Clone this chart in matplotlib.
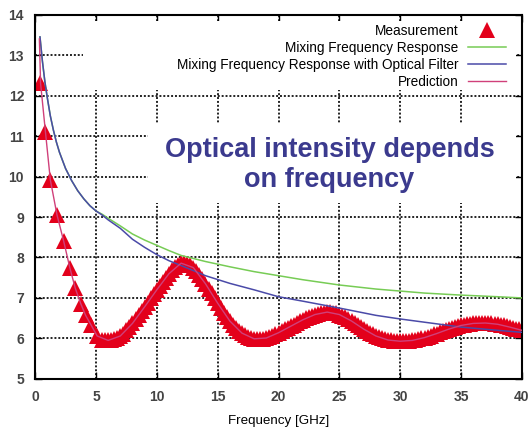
import matplotlib
matplotlib.use("Agg")
import matplotlib.pyplot as plt
from matplotlib.patches import Rectangle

plt.rcParams['font.family'] = ['Liberation Sans', 'DejaVu Sans']

# Measurement: first sparse points, then a sample every 0.25 GHz from 5.5 GHz
meas_x_low = [0.4, 0.85, 1.25, 1.8, 2.35, 2.85, 3.3, 3.75, 4.15, 4.6, 5.1]
meas_y_low = [12.3, 11.1, 9.92, 9.05, 8.4, 7.75, 7.24, 6.86, 6.57, 6.33, 6.06]
meas_x_high = [5.5 + 0.25 * i for i in range(139)]
meas_y_high = [
    5.97, 5.95, 5.95, 5.96, 5.98, 6.01, 6.06, 6.12, 6.20, 6.28,
    6.37, 6.47, 6.57, 6.67, 6.78, 6.88, 6.99, 7.10, 7.20, 7.30,
    7.40, 7.50, 7.60, 7.68, 7.76, 7.82, 7.86, 7.87, 7.85, 7.81,
    7.75, 7.67, 7.57, 7.46, 7.35, 7.23, 7.11, 6.99, 6.87, 6.75,
    6.64, 6.53, 6.43, 6.34, 6.26, 6.19, 6.13, 6.08, 6.04, 6.01,
    5.99, 5.98, 5.98, 5.99, 6.01, 6.04, 6.07, 6.10, 6.14, 6.18,
    6.22, 6.26, 6.30, 6.34, 6.38, 6.42, 6.46, 6.50, 6.53, 6.56,
    6.59, 6.61, 6.63, 6.64, 6.65, 6.65, 6.64, 6.62, 6.59, 6.56,
    6.52, 6.48, 6.43, 6.38, 6.33, 6.28, 6.23, 6.18, 6.14, 6.10,
    6.06, 6.03, 6.00, 5.98, 5.96, 5.95, 5.94, 5.93, 5.93, 5.93,
    5.93, 5.94, 5.95, 5.96, 5.98, 6.00, 6.02, 6.04, 6.07, 6.10,
    6.12, 6.15, 6.18, 6.20, 6.23, 6.26, 6.28, 6.30, 6.32, 6.34,
    6.35, 6.36, 6.37, 6.38, 6.38, 6.38, 6.38, 6.38, 6.37, 6.36,
    6.35, 6.34, 6.32, 6.30, 6.28, 6.26, 6.24, 6.22, 6.20]
meas_x = meas_x_low + meas_x_high
meas_y = meas_y_low + meas_y_high

# Prediction
pred_x = [0.35, 0.45, 0.85, 1.25, 1.8, 2.35, 2.85, 3.3, 3.75, 4.15, 4.6, 5.1,
          6, 7, 8, 9, 10, 11, 12, 13, 14, 15, 16, 17, 18, 19, 20,
          21, 22, 23, 24, 25, 26, 27, 28, 29, 30,
          31, 32, 33, 34, 35, 36, 37, 38, 39, 40]
pred_y = [13.4, 12.3, 11.1, 9.92, 9.05, 8.4, 7.75, 7.24, 6.86, 6.57, 6.33, 6.06,
          5.95, 6.06, 6.37, 6.78, 7.2, 7.6, 7.86, 7.75, 7.35, 6.87, 6.43, 6.13, 5.99, 6.01, 6.14,
          6.3, 6.46, 6.59, 6.65, 6.59, 6.43, 6.23, 6.06, 5.96, 5.93,
          5.95, 6.02, 6.12, 6.23, 6.32, 6.37, 6.38, 6.35, 6.28, 6.2]

# Mixing Frequency Response
mix_x = [0.4, 0.5, 0.6, 0.8, 1.0, 1.25, 1.5, 1.75, 2.0, 2.5, 3.0, 3.5, 4.0, 4.5, 5.0,
         5.5, 6, 7, 8, 9, 10, 11, 12, 14, 16, 18, 20, 22, 25, 28, 30, 32, 35, 38, 40]
mix_y = [13.45, 13.15, 12.85, 12.35, 11.95, 11.5, 11.15, 10.85, 10.6, 10.2, 9.9, 9.65, 9.45, 9.28, 9.15,
         9.07, 8.97, 8.78, 8.58, 8.43, 8.3, 8.17, 8.05, 7.9, 7.77, 7.65, 7.55, 7.45, 7.32, 7.22, 7.17,
         7.12, 7.07, 7.03, 7.0]

# Mixing Frequency Response with Optical Filter
filt_x = [0.4, 0.5, 0.6, 0.8, 1.0, 1.25, 1.5, 1.75, 2.0, 2.5, 3.0, 3.5, 4.0, 4.5, 5.0,
          5.5, 6, 7, 8, 9, 10, 11, 12, 14, 16, 18, 20, 22, 25, 28, 30, 32, 35, 38, 40]
filt_y = [13.45, 13.15, 12.85, 12.35, 11.95, 11.5, 11.15, 10.85, 10.6, 10.2, 9.9, 9.65, 9.45, 9.28, 9.15,
          9.05, 8.93, 8.72, 8.45, 8.25, 8.07, 7.92, 7.8, 7.55, 7.36, 7.2, 7.03, 6.92, 6.75, 6.57, 6.48,
          6.4, 6.28, 6.2, 6.15]

fig = plt.figure(figsize=(5.32, 4.32), dpi=100)
ax = fig.add_axes([0.066, 0.123, 0.915, 0.843])

ax.plot(meas_x, meas_y, linestyle='none', marker='^', markersize=11,
        color='#e3001b', markeredgewidth=0, label='Measurement', zorder=2)
ax.plot(mix_x, mix_y, color='#77cc55', lw=1.1, label='Mixing Frequency Response', zorder=3)
ax.plot(filt_x, filt_y, color='#4a4aa8', lw=1.1,
        label='Mixing Frequency Response with Optical Filter', zorder=3)
ax.plot(pred_x, pred_y, color='#d0407a', lw=1.0, label='Prediction', zorder=3)

ax.set_xlim(0, 40)
ax.set_ylim(5, 14)
ax.set_xticks(range(0, 41, 5))
ax.set_yticks(range(5, 15))
ax.set_axisbelow(True)
ax.grid(True, color='#222222', linestyle=(0, (1, 1)), lw=1.4)
ax.tick_params(direction='in', length=5, width=1, top=True, right=True,
               labelsize=10, labelcolor='#444444', pad=8)
for lab in ax.get_xticklabels() + ax.get_yticklabels():
    lab.set_fontweight('bold')
for s in ax.spines.values():
    s.set_linewidth(1.5)

# white areas behind legend and annotation
ax.add_patch(Rectangle((0.099, 0.794), 0.889, 0.19, transform=ax.transAxes,
                       facecolor='white', edgecolor='none', zorder=1))
ax.add_patch(Rectangle((0.232, 0.4835), 0.756, 0.22, transform=ax.transAxes,
                       facecolor='white', edgecolor='none', zorder=1))

ax.text(0.605, 0.588, 'Optical intensity depends\non frequency', transform=ax.transAxes,
        ha='center', va='center', fontsize=19.5, fontweight='bold', color='#3b3a8e',
        linespacing=1.2, zorder=4)

ax.legend(loc='upper right', bbox_to_anchor=(0.967, 0.975), markerfirst=False,
          frameon=False, fontsize=9.8, handlelength=2.8, handletextpad=0.66,
          labelspacing=0.22, borderpad=0, borderaxespad=0, numpoints=1)

ax.set_xlabel('Frequency [GHz]', fontsize=9.6, labelpad=8)

fig.savefig('out.png', dpi=100)
